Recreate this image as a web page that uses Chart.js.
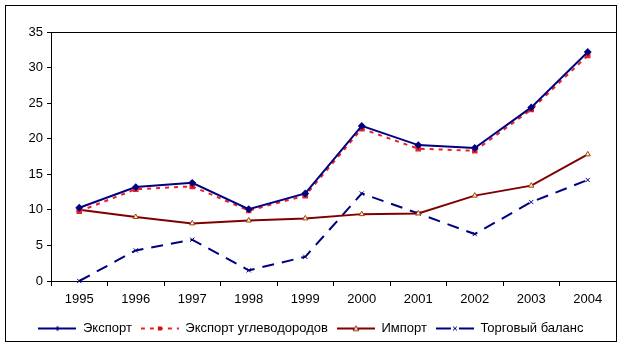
<!DOCTYPE html>
<html>
<head>
<meta charset="utf-8">
<script src="https://cdn.jsdelivr.net/npm/chart.js@4/dist/chart.umd.min.js"></script>
<style>
  html, body { margin: 0; padding: 0; background: #fff; }
  #wrap { width: 623px; height: 352px; }
</style>
</head>
<body>
<div id="wrap"><canvas id="tradeChart" width="623" height="352"></canvas></div>
<script>
// Years and series
const years = ['1995', '1996', '1997', '1998', '1999', '2000', '2001', '2002', '2003', '2004'];
const exportTotal = [10.3, 13.2, 13.8, 10.1, 12.3, 21.8, 19.1, 18.7, 24.4, 32.2];
const exportHydro = [9.8, 12.9, 13.3, 9.9, 12.0, 21.4, 18.6, 18.3, 24.1, 31.7];
const importTotal = [10.0, 9.0, 8.1, 8.5, 8.8, 9.4, 9.5, 12.0, 13.4, 17.8];
const tradeBalance = [0.0, 4.3, 5.8, 1.5, 3.4, 12.3, 9.5, 6.6, 11.1, 14.2];

const FONT = 'Liberation Sans, Arial, sans-serif';

// small canvas used as legend sample: line segment + marker
function legendSample(color, dash, marker, markerFill) {
    const c = document.createElement('canvas');
    c.width = 38; c.height = 10;
    const g = c.getContext('2d');
    g.strokeStyle = color;
    g.lineWidth = 2;
    g.setLineDash(dash);
    g.beginPath();
    g.moveTo(0, 5); g.lineTo(38, 5);
    g.stroke();
    g.setLineDash([]);
    g.lineWidth = 1;
    g.fillStyle = markerFill;
    g.beginPath();
    if (marker === 'diamond') {
        g.moveTo(19, 2.5); g.lineTo(21.5, 5); g.lineTo(19, 7.5); g.lineTo(16.5, 5); g.closePath();
        g.fill();
    } else if (marker === 'square') {
        g.fillRect(17, 3, 4, 4);
    } else if (marker === 'triangle') {
        g.moveTo(19, 2.5); g.lineTo(22, 7); g.lineTo(16, 7); g.closePath();
        g.fill(); g.stroke();
    } else if (marker === 'x') {
        g.fillStyle = '#fff';
        g.fillRect(15, 1, 8, 8);
        g.beginPath();
        g.moveTo(17, 3); g.lineTo(21, 7); g.moveTo(21, 3); g.lineTo(17, 7);
        g.stroke();
    }
    return c;
}

const borders = {
    id: 'borders',
    afterDraw(chart) {
        const { ctx, chartArea } = chart;
        ctx.save();
        ctx.strokeStyle = '#000';
        ctx.lineWidth = 1;
        ctx.beginPath();
        ctx.moveTo(Math.round(chartArea.left) + 0.5, Math.round(chartArea.top) + 0.5);
        ctx.lineTo(Math.round(chartArea.right) + 0.5, Math.round(chartArea.top) + 0.5);
        ctx.lineTo(Math.round(chartArea.right) + 0.5, Math.round(chartArea.bottom) + 0.5);
        ctx.stroke();
        ctx.strokeRect(5.5, 5.5, 611, 336);
        ctx.restore();
    }
};

const ctx = document.getElementById('tradeChart').getContext('2d');

const tradeChart = new Chart(ctx, {
    type: 'line',
    data: {
        labels: years,
        datasets: [
            {
                label: 'Экспорт',
                data: exportTotal,
                borderColor: '#000080',
                backgroundColor: '#000080',
                borderWidth: 2,
                pointStyle: 'rectRot',
                pointRadius: 2.5,
                legendImg: legendSample('#000080', [], 'diamond', '#000080')
            },
            {
                label: 'Экспорт углеводородов',
                data: exportHydro,
                borderColor: '#E8202A',
                backgroundColor: '#D01010',
                borderWidth: 2,
                borderDash: [4, 5],
                pointStyle: 'rect',
                pointRadius: 2.5,
                legendImg: legendSample('#E8202A', [4, 5], 'square', '#D01010')
            },
            {
                label: 'Импорт',
                data: importTotal,
                borderColor: '#800000',
                backgroundColor: '#FFF2CC',
                borderWidth: 2,
                pointStyle: 'triangle',
                pointRadius: 3,
                pointBorderColor: '#A0400A',
                pointBorderWidth: 1,
                legendImg: legendSample('#800000', [], 'triangle', '#FFF2CC')
            },
            {
                label: 'Торговый баланс',
                data: tradeBalance,
                borderColor: '#000080',
                backgroundColor: '#000080',
                borderWidth: 2,
                borderDash: [12, 8],
                pointStyle: 'crossRot',
                pointRadius: 3,
                pointBorderWidth: 1,
                legendImg: legendSample('#000080', [], 'x', '#000080')
            }
        ]
    },
    options: {
        responsive: false,
        animation: false,
        clip: false,
        elements: { line: { tension: 0, fill: false } },
        layout: { padding: { left: 6, top: 32, right: 7, bottom: 7 } },
        scales: {
            y: {
                min: 0,
                max: 35,
                ticks: { stepSize: 5, color: '#000', padding: 4, font: { family: FONT, size: 13 } },
                grid: { display: true, drawOnChartArea: false, drawTicks: true, tickLength: 4, color: '#000' },
                border: { display: true, color: '#000', width: 1 },
                afterFit(scale) { scale.width = 45; }
            },
            x: {
                offset: true,
                ticks: { color: '#000', padding: 6, maxRotation: 0, font: { family: FONT, size: 13 } },
                grid: { display: true, drawOnChartArea: false, drawTicks: true, tickLength: 5, color: '#000', offset: true },
                border: { display: true, color: '#000', width: 1 },
                afterFit(scale) { scale.height = 32; }
            }
        },
        plugins: {
            legend: {
                position: 'bottom',
                labels: {
                    usePointStyle: true,
                    pointStyleWidth: 38,
                    padding: 9,
                    color: '#000',
                    font: { family: FONT, size: 13 },
                    generateLabels(chart) {
                        return chart.data.datasets.map((ds, i) => ({
                            text: ds.label,
                            pointStyle: ds.legendImg,
                            fillStyle: ds.borderColor,
                            strokeStyle: ds.borderColor,
                            lineWidth: 0,
                            hidden: false,
                            datasetIndex: i
                        }));
                    }
                }
            },
            tooltip: { enabled: false }
        }
    },
    plugins: [borders]
});
</script>
</body>
</html>
